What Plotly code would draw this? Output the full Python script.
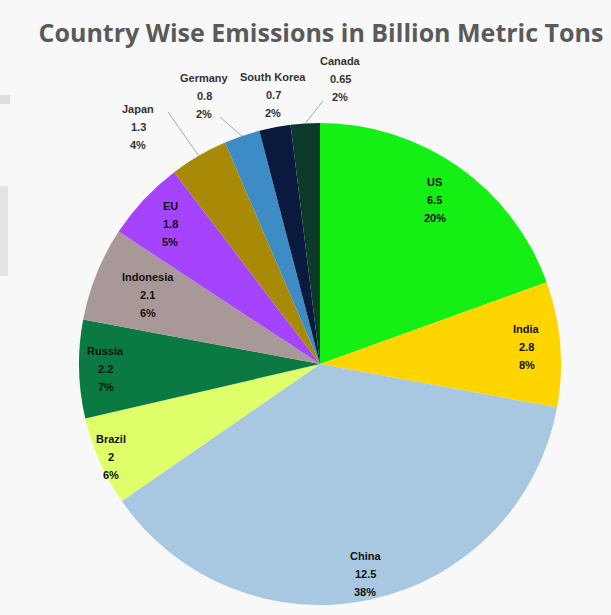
import math
import plotly.graph_objects as go

countries = ["US", "India", "China", "Brazil", "Russia", "Indonesia", "EU",
             "Japan", "Germany", "South Korea", "Canada"]
emissions = [6.5, 2.8, 12.5, 2, 2.2, 2.1, 1.8, 1.3, 0.8, 0.7, 0.65]
pct_labels = ["20%", "8%", "38%", "6%", "7%", "6%", "5%", "4%", "2%", "2%", "2%"]
value_labels = ["6.5", "2.8", "12.5", "2", "2.2", "2.1", "1.8", "1.3", "0.8", "0.7", "0.65"]
colors = ["#14F014", "#FFD500", "#A8C8E2", "#DEFF6A", "#0B7A42", "#A99898",
          "#A544FF", "#A88A06", "#3D8CC6", "#0A1A3E", "#0B3A2A"]

W, H = 611, 615
CX, CY, R = 320, 364, 241   # pie centre / radius in pixels (layout)

# radial placement of in-slice labels (fraction of radius); None -> outside label
radial_frac = [0.83, 0.86, 0.89, 0.95, 0.89, 0.77, 0.85, None, None, None, None]
# outside label centres (pixels) for the small slices
outside_pos = {"Japan": (138, 127), "Germany": (204, 96),
               "South Korea": (273, 95), "Canada": (340, 79)}
# leader-line start points (pixels) near the outside labels
leader_start = {"Japan": (168, 112), "Germany": (220, 117), "Canada": (323, 101)}


def px(x, y):
    return x / W, 1 - y / H


fig = go.Figure(go.Pie(
    labels=countries,
    values=emissions,
    sort=False,
    direction="clockwise",
    rotation=0,
    marker=dict(colors=colors, line=dict(width=0)),
    textinfo="none",
    automargin=False,
    showlegend=False,
    domain=dict(x=[(CX - R) / W, (CX + R) / W], y=[1 - (CY + R) / H, 1 - (CY - R) / H]),
    hoverinfo="label+value+percent",
))

annotations = []
shapes = []
total = sum(emissions)
cum = 0.0
LINE_GAP = 18
for i, name in enumerate(countries):
    ang = (cum + emissions[i] / 2) / total * 2 * math.pi
    cum += emissions[i]
    sx, sy = math.sin(ang), -math.cos(ang)
    if radial_frac[i] is not None:
        tx, ty = CX + radial_frac[i] * R * sx, CY + radial_frac[i] * R * sy
        col = "#111111"
    else:
        tx, ty = outside_pos[name]
        col = "#333333"
        if name in leader_start:
            x0, y0 = leader_start[name]
            ex, ey = CX + R * sx, CY + R * sy
            a0, b0 = px(x0, y0)
            a1, b1 = px(ex, ey)
            shapes.append(dict(type="line", xref="paper", yref="paper",
                               x0=a0, y0=b0, x1=a1, y1=b1,
                               line=dict(color="#A8A8A8", width=1)))
    for k, txt in enumerate([name, value_labels[i], pct_labels[i]]):
        ax_, ay_ = px(tx, ty + (k - 1) * LINE_GAP)
        annotations.append(dict(
            text="<b>" + txt + "</b>", x=ax_, y=ay_, xref="paper", yref="paper",
            showarrow=False, xanchor="center", yanchor="middle",
            font=dict(family="Liberation Sans", size=11, color=col)))

shapes += [
    dict(type="rect", xref="paper", yref="paper", x0=0, x1=10 / W,
         y0=1 - 104 / H, y1=1 - 95 / H, fillcolor="#DDDDDD", line=dict(width=0)),
    dict(type="rect", xref="paper", yref="paper", x0=0, x1=8 / W,
         y0=1 - 276 / H, y1=1 - 186 / H, fillcolor="#E4E4E4", line=dict(width=0)),
]

fig.update_layout(
    width=W, height=H,
    margin=dict(l=0, r=0, t=0, b=0),
    paper_bgcolor="#F8F8F8",
    plot_bgcolor="#F8F8F8",
    title=dict(text="<b>Country Wise Emissions in Billion Metric Tons</b>",
               x=321 / W, xanchor="center", y=1 - 33 / H, yanchor="middle",
               font=dict(family="Open Sans", size=25, color="#5A5A5A")),
    annotations=annotations,
    shapes=shapes,
)

fig.write_html("out.html")
